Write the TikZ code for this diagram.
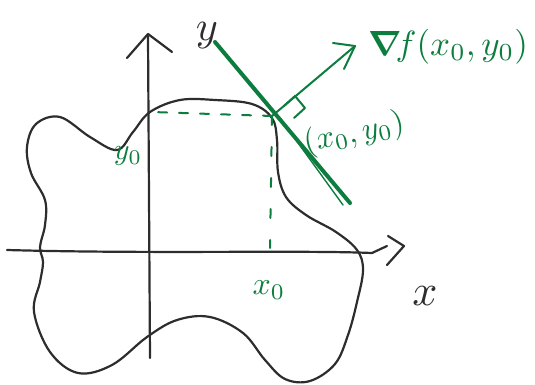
\documentclass[tikz,border=0pt]{standalone}
\usepackage{graphicx}
\usepackage{amsmath}
\usepackage{bm}
\definecolor{pen}{RGB}{45,45,45}
\definecolor{gpen}{RGB}{12,125,62}
\begin{document}
\begin{tikzpicture}[x=1pt,y=-1pt,
  blk/.style={draw=pen,line width=2.2pt,line cap=round,line join=round},
  grn/.style={draw=gpen,line width=2pt,line cap=round,line join=round},
  glabel/.style={text=gpen,inner sep=0pt}]
\useasboundingbox (0,0) rectangle (535,385);
% blob
\draw[blk] plot[smooth cycle,tension=0.6] coordinates {
 (272,118) (277,140) (278,172) (286,197) (306,215) (336,232) (357,250)
 (363,270) (357,302) (348,335) (335,364) (310,381) (285,379) (265,360)
 (243,333) (210,317) (177,320) (147,337) (112,365) (78,373) (50,352)
 (34,312) (40,282) (43,262) (40,247) (45,225) (45,200) (31,173)
 (27,147) (36,124) (60,117) (90,137) (117,150) (133,132) (150,112)
 (180,100) (215,100) (252,104)};
% axes
\coordinate (xs) at (7,250);
\coordinate (xe) at (387,246);
\draw[blk] (xs) .. controls (150,254) and (300,250) .. (372,253) -- (xe);
\draw[blk] (388,236) -- (404,246) -- (387,265);
\coordinate (ys) at (150,358);
\coordinate (ye) at (148,36);
\draw[blk] (ys) -- (ye);
\draw[blk] (127,58) -- (148,34) -- (172,52);
\node[text=pen,inner sep=0pt] (xl) at (425,296) {\scalebox{4.4}{$x$}};
\node[text=pen,inner sep=0pt] (yl) at (207,36) {\scalebox{4.2}{$y$}};
% point
\coordinate (P) at (272,116);
% dashed guides
\draw[grn,dashed,dash pattern=on 9pt off 12pt] (P) -- (152,112);
\draw[grn,dashed,dash pattern=on 9pt off 22pt] (P) -- (270,248);
% tangent line
\coordinate (T1) at (215,42);
\coordinate (T2) at (350,203);
\draw[gpen,line width=4pt,line cap=round] (T1) -- (T2);
\draw[grn,line width=1.4pt] (280,118) -- (343,205);
% gradient arrow
\coordinate (G) at (355,46);
\draw[grn] (P) -- (G);
\draw[grn] (333,43) -- (G) -- (344,69);
% right angle mark
\draw[grn] (284,106) -- (295,96) -- (305,108) -- (294,118);
% labels
\node[glabel] (grad) at (448,47) {\scalebox{3.5}{$\bm{\nabla}\! f(x_0,y_0)$}};
\node[glabel,rotate=12] (pl) at (354,134) {\scalebox{3.2}{$(x_0,y_0)$}};
\node[glabel] (y0) at (128,156) {\scalebox{3.0}{$y_0$}};
\node[glabel] (x0) at (269,290) {\scalebox{3.2}{$x_0$}};
\end{tikzpicture}
\end{document}
